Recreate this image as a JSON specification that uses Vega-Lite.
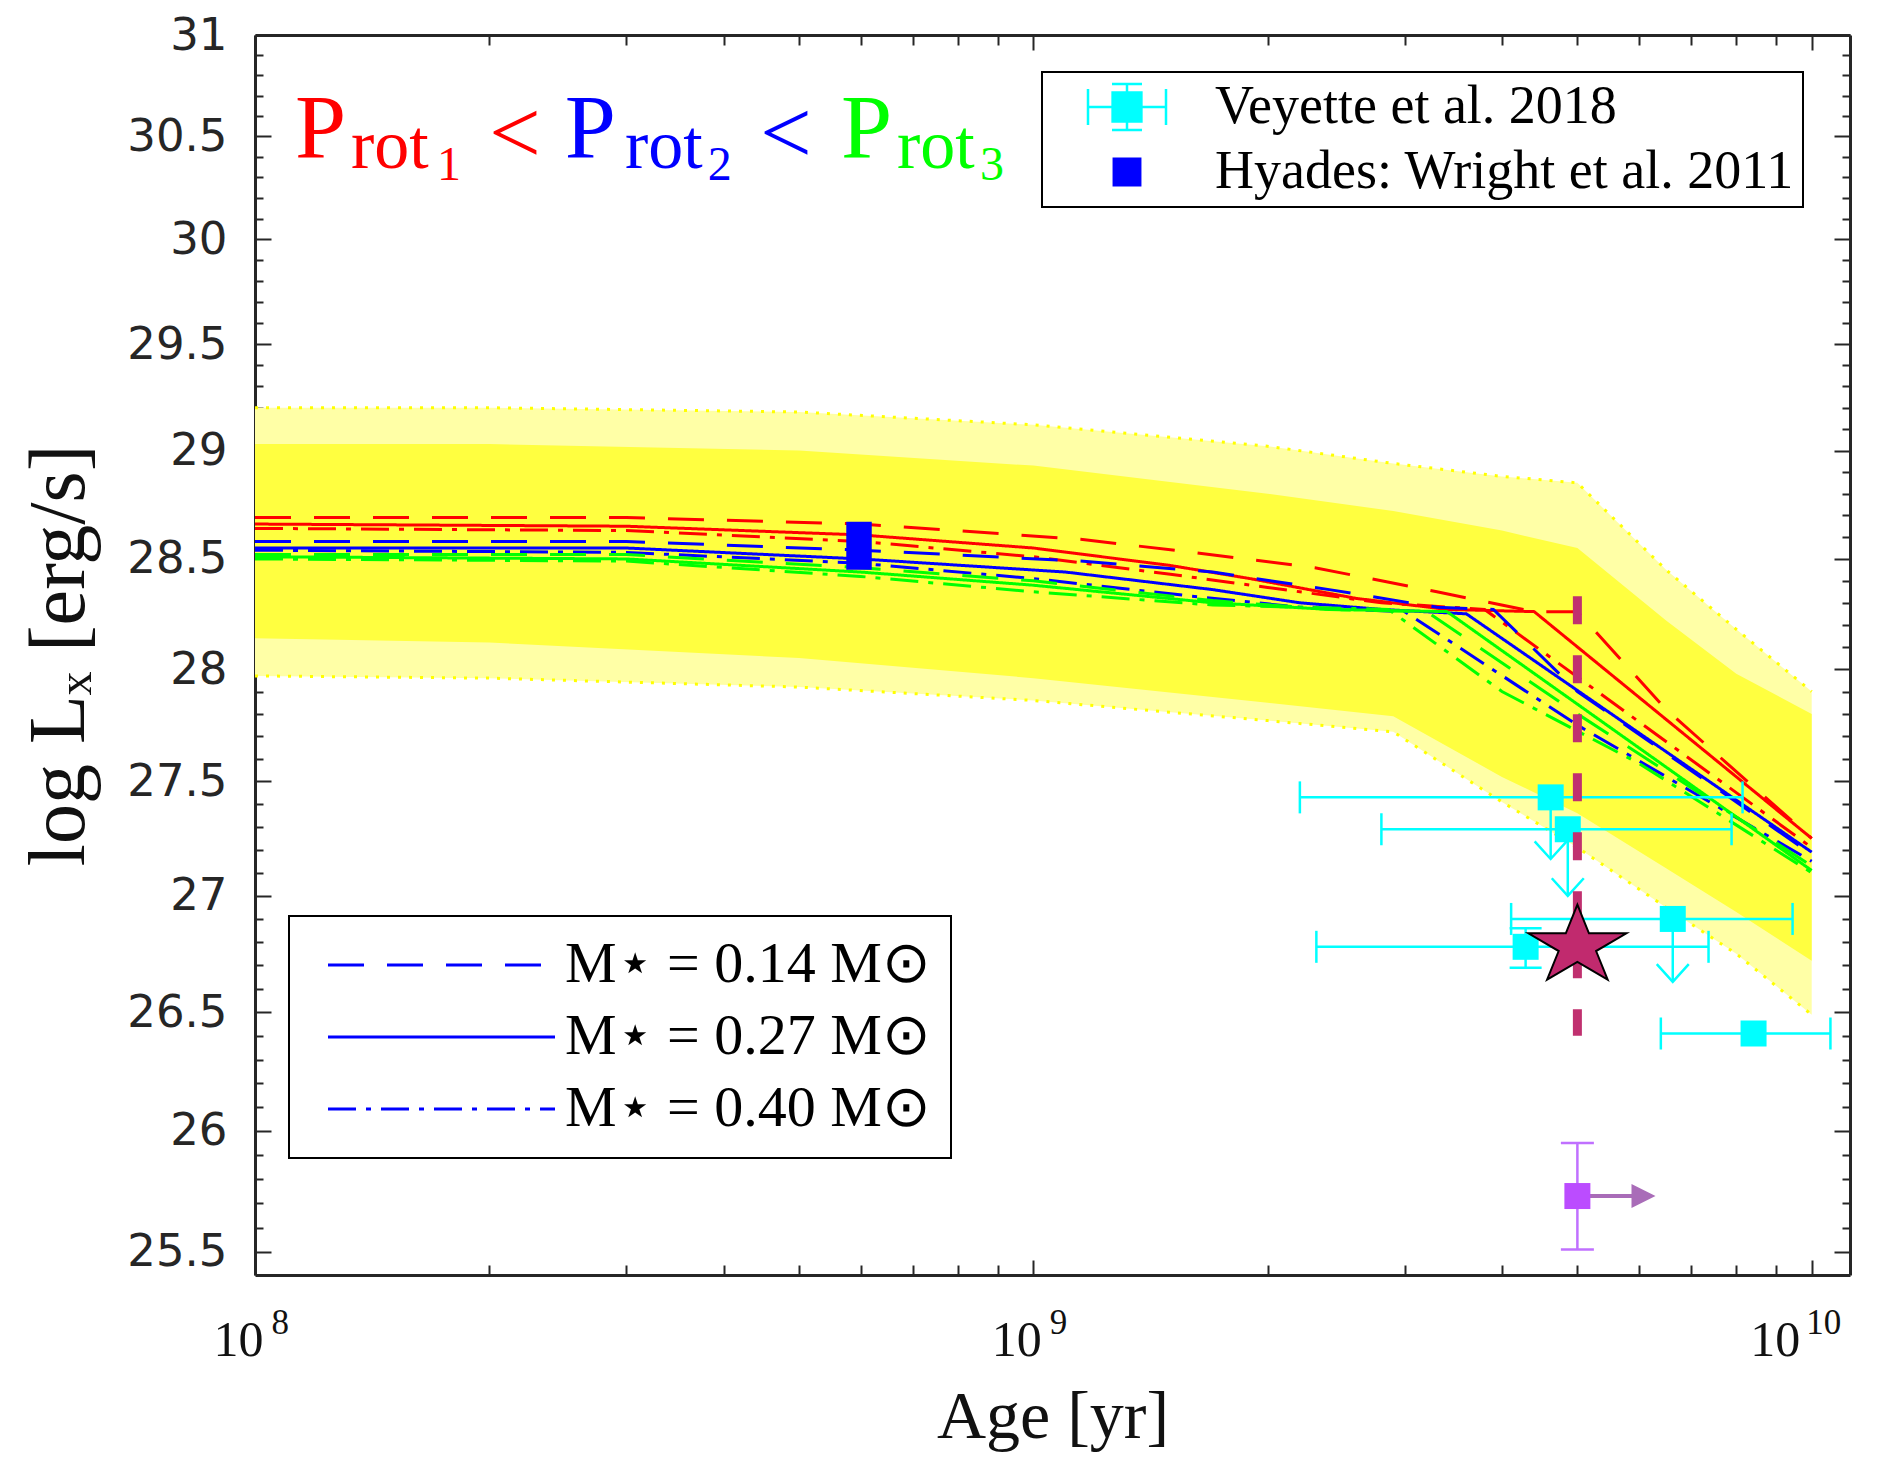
{
  "$schema": "https://vega.github.io/schema/vega-lite/v6.json",
  "width": 1595,
  "height": 1240,
  "autosize": {"type": "none"},
  "padding": {"left": 255, "top": 35, "right": 27, "bottom": 184},
  "background": "#FFFFFF",
  "config": {
    "view": {"stroke": null},
    "axis": {"grid": false, "domain": false, "tickColor": "#262626", "tickWidth": 2, "labelColor": "#262626", "zindex": 1, "labelFlush": false, "labelOverlap": false},
    "legend": {"strokeWidth": 2},
    "text": {"font": "Liberation Serif"}
  },
  "resolve": {"axis": {"x": "independent", "y": "independent"}, "scale": {"color": "independent", "fill": "independent", "stroke": "independent", "shape": "independent"}},
  "datasets": {
    "bands": [
      {"age": 100000000, "olo": 27.97, "ohi": 29.2, "clo": 28.14, "chi": 29.03},
      {"age": 200000000, "olo": 27.96, "ohi": 29.2, "clo": 28.12, "chi": 29.03},
      {"age": 500000000, "olo": 27.92, "ohi": 29.18, "clo": 28.05, "chi": 29.0},
      {"age": 1000000000, "olo": 27.86, "ohi": 29.12, "clo": 27.96, "chi": 28.93},
      {"age": 2000000000, "olo": 27.77, "ohi": 29.02, "clo": 27.85, "chi": 28.8},
      {"age": 2900000000, "olo": 27.72, "ohi": 28.94, "clo": 27.79, "chi": 28.72},
      {"age": 4000000000, "olo": 27.41, "ohi": 28.88, "clo": 27.52, "chi": 28.63},
      {"age": 5000000000, "olo": 27.21, "ohi": 28.85, "clo": 27.36, "chi": 28.55},
      {"age": 6500000000, "olo": 26.95, "ohi": 28.45, "clo": 27.12, "chi": 28.22},
      {"age": 8000000000, "olo": 26.75, "ohi": 28.18, "clo": 26.93, "chi": 27.98},
      {"age": 10000000000, "olo": 26.49, "ohi": 27.9, "clo": 26.72, "chi": 27.8}
    ],
    "models": [
      {"prot": "P1", "mass": "0.14", "age": 100000000, "lx": 28.69},
      {"prot": "P1", "mass": "0.14", "age": 300000000, "lx": 28.69},
      {"prot": "P1", "mass": "0.14", "age": 600000000, "lx": 28.66},
      {"prot": "P1", "mass": "0.14", "age": 1150000000, "lx": 28.59},
      {"prot": "P1", "mass": "0.14", "age": 1600000000, "lx": 28.53},
      {"prot": "P1", "mass": "0.14", "age": 2300000000, "lx": 28.46},
      {"prot": "P1", "mass": "0.14", "age": 3300000000, "lx": 28.35},
      {"prot": "P1", "mass": "0.14", "age": 4400000000, "lx": 28.26},
      {"prot": "P1", "mass": "0.14", "age": 5000000000, "lx": 28.26},
      {"prot": "P1", "mass": "0.14", "age": 6500000000, "lx": 27.82},
      {"prot": "P1", "mass": "0.14", "age": 10000000000, "lx": 27.25},
      {"prot": "P1", "mass": "0.27", "age": 100000000, "lx": 28.66},
      {"prot": "P1", "mass": "0.27", "age": 300000000, "lx": 28.65},
      {"prot": "P1", "mass": "0.27", "age": 600000000, "lx": 28.61},
      {"prot": "P1", "mass": "0.27", "age": 1000000000, "lx": 28.55},
      {"prot": "P1", "mass": "0.27", "age": 1500000000, "lx": 28.47},
      {"prot": "P1", "mass": "0.27", "age": 1900000000, "lx": 28.41},
      {"prot": "P1", "mass": "0.27", "age": 2600000000, "lx": 28.32},
      {"prot": "P1", "mass": "0.27", "age": 3400000000, "lx": 28.27},
      {"prot": "P1", "mass": "0.27", "age": 4400000000, "lx": 28.26},
      {"prot": "P1", "mass": "0.27", "age": 10000000000, "lx": 27.25},
      {"prot": "P1", "mass": "0.40", "age": 100000000, "lx": 28.64},
      {"prot": "P1", "mass": "0.40", "age": 300000000, "lx": 28.63},
      {"prot": "P1", "mass": "0.40", "age": 600000000, "lx": 28.58},
      {"prot": "P1", "mass": "0.40", "age": 1000000000, "lx": 28.51},
      {"prot": "P1", "mass": "0.40", "age": 1500000000, "lx": 28.43},
      {"prot": "P1", "mass": "0.40", "age": 2000000000, "lx": 28.37},
      {"prot": "P1", "mass": "0.40", "age": 2800000000, "lx": 28.3},
      {"prot": "P1", "mass": "0.40", "age": 3800000000, "lx": 28.27},
      {"prot": "P1", "mass": "0.40", "age": 10000000000, "lx": 27.21},
      {"prot": "P2", "mass": "0.14", "age": 100000000, "lx": 28.58},
      {"prot": "P2", "mass": "0.14", "age": 300000000, "lx": 28.58},
      {"prot": "P2", "mass": "0.14", "age": 600000000, "lx": 28.54},
      {"prot": "P2", "mass": "0.14", "age": 1150000000, "lx": 28.49},
      {"prot": "P2", "mass": "0.14", "age": 1700000000, "lx": 28.44},
      {"prot": "P2", "mass": "0.14", "age": 2400000000, "lx": 28.36},
      {"prot": "P2", "mass": "0.14", "age": 3300000000, "lx": 28.28},
      {"prot": "P2", "mass": "0.14", "age": 3900000000, "lx": 28.27},
      {"prot": "P2", "mass": "0.14", "age": 5000000000, "lx": 27.9},
      {"prot": "P2", "mass": "0.14", "age": 10000000000, "lx": 27.18},
      {"prot": "P2", "mass": "0.27", "age": 100000000, "lx": 28.55},
      {"prot": "P2", "mass": "0.27", "age": 300000000, "lx": 28.55},
      {"prot": "P2", "mass": "0.27", "age": 600000000, "lx": 28.5},
      {"prot": "P2", "mass": "0.27", "age": 1100000000, "lx": 28.44},
      {"prot": "P2", "mass": "0.27", "age": 1700000000, "lx": 28.36},
      {"prot": "P2", "mass": "0.27", "age": 2200000000, "lx": 28.3},
      {"prot": "P2", "mass": "0.27", "age": 2800000000, "lx": 28.27},
      {"prot": "P2", "mass": "0.27", "age": 3600000000, "lx": 28.25},
      {"prot": "P2", "mass": "0.27", "age": 10000000000, "lx": 27.19},
      {"prot": "P2", "mass": "0.40", "age": 100000000, "lx": 28.54},
      {"prot": "P2", "mass": "0.40", "age": 300000000, "lx": 28.53},
      {"prot": "P2", "mass": "0.40", "age": 600000000, "lx": 28.48},
      {"prot": "P2", "mass": "0.40", "age": 1000000000, "lx": 28.41},
      {"prot": "P2", "mass": "0.40", "age": 1600000000, "lx": 28.33},
      {"prot": "P2", "mass": "0.40", "age": 2200000000, "lx": 28.28},
      {"prot": "P2", "mass": "0.40", "age": 3000000000, "lx": 28.26},
      {"prot": "P2", "mass": "0.40", "age": 5000000000, "lx": 27.75},
      {"prot": "P2", "mass": "0.40", "age": 10000000000, "lx": 27.15},
      {"prot": "P3", "mass": "0.14", "age": 100000000, "lx": 28.52},
      {"prot": "P3", "mass": "0.14", "age": 300000000, "lx": 28.52},
      {"prot": "P3", "mass": "0.14", "age": 600000000, "lx": 28.46},
      {"prot": "P3", "mass": "0.14", "age": 1000000000, "lx": 28.4},
      {"prot": "P3", "mass": "0.14", "age": 1700000000, "lx": 28.31},
      {"prot": "P3", "mass": "0.14", "age": 2400000000, "lx": 28.27},
      {"prot": "P3", "mass": "0.14", "age": 3200000000, "lx": 28.26},
      {"prot": "P3", "mass": "0.14", "age": 5000000000, "lx": 27.8},
      {"prot": "P3", "mass": "0.14", "age": 10000000000, "lx": 27.13},
      {"prot": "P3", "mass": "0.27", "age": 100000000, "lx": 28.51},
      {"prot": "P3", "mass": "0.27", "age": 300000000, "lx": 28.5},
      {"prot": "P3", "mass": "0.27", "age": 600000000, "lx": 28.44},
      {"prot": "P3", "mass": "0.27", "age": 1000000000, "lx": 28.38},
      {"prot": "P3", "mass": "0.27", "age": 1700000000, "lx": 28.3},
      {"prot": "P3", "mass": "0.27", "age": 2400000000, "lx": 28.27},
      {"prot": "P3", "mass": "0.27", "age": 3400000000, "lx": 28.26},
      {"prot": "P3", "mass": "0.27", "age": 10000000000, "lx": 27.11},
      {"prot": "P3", "mass": "0.40", "age": 100000000, "lx": 28.5},
      {"prot": "P3", "mass": "0.40", "age": 300000000, "lx": 28.49},
      {"prot": "P3", "mass": "0.40", "age": 600000000, "lx": 28.42},
      {"prot": "P3", "mass": "0.40", "age": 1000000000, "lx": 28.35},
      {"prot": "P3", "mass": "0.40", "age": 1700000000, "lx": 28.29},
      {"prot": "P3", "mass": "0.40", "age": 2860000000, "lx": 28.27},
      {"prot": "P3", "mass": "0.40", "age": 4000000000, "lx": 27.9},
      {"prot": "P3", "mass": "0.40", "age": 6000000000, "lx": 27.58},
      {"prot": "P3", "mass": "0.40", "age": 10000000000, "lx": 27.1}
    ],
    "veyette": [
      {"source": "Veyette et al. 2018", "age": 4620000000, "lx": 27.43, "xlo": 2200000000, "xhi": 8150000000, "ylo": null, "yhi": null, "lim": 27.16},
      {"source": "Veyette et al. 2018", "age": 4860000000, "lx": 27.29, "xlo": 2800000000, "xhi": 7890000000, "ylo": null, "yhi": null, "lim": 27.0},
      {"source": "Veyette et al. 2018", "age": 4290000000, "lx": 26.78, "xlo": 2310000000, "xhi": 7370000000, "ylo": 26.69, "yhi": 26.86, "lim": null},
      {"source": "Veyette et al. 2018", "age": 6630000000, "lx": 26.9, "xlo": 4110000000, "xhi": 9450000000, "ylo": null, "yhi": null, "lim": 26.63},
      {"source": "Veyette et al. 2018", "age": 8420000000, "lx": 26.41, "xlo": 6400000000, "xhi": 10570000000, "ylo": null, "yhi": null, "lim": null}
    ],
    "hyades": [
      {"source": "Hyades: Wright et al. 2011", "alo": 575000000, "ahi": 620000000, "lo": 28.45, "hi": 28.67}
    ],
    "sources": [
      {"source": "Veyette et al. 2018", "age": 4620000000, "lx": 27.43},
      {"source": "Hyades: Wright et al. 2011", "age": 597000000, "lx": 28.56}
    ],
    "target": [
      {"age": 5000000000, "lx": 26.8, "lo": 26.4, "hi": 28.33}
    ],
    "agelimit": [
      {"age": 5000000000, "lx": 25.73, "lo": 25.51, "hi": 25.95, "amax": 6080000000}
    ],
    "ann_main": [
      {"t": "P", "prot": "P1", "age": 112600000, "lx": 30.394},
      {"t": "<", "prot": "P1", "age": 199800000, "lx": 30.37},
      {"t": "P", "prot": "P2", "age": 250000000, "lx": 30.394},
      {"t": "<", "prot": "P2", "age": 445400000, "lx": 30.37},
      {"t": "P", "prot": "P3", "age": 566000000, "lx": 30.394}
    ],
    "ann_sub": [
      {"t": "rot", "prot": "P1", "age": 132800000, "lx": 30.345},
      {"t": "rot", "prot": "P2", "age": 298700000, "lx": 30.345},
      {"t": "rot", "prot": "P3", "age": 668000000, "lx": 30.345}
    ],
    "ann_subsub": [
      {"t": "1", "prot": "P1", "age": 171300000, "lx": 30.287},
      {"t": "2", "prot": "P2", "age": 381700000, "lx": 30.287},
      {"t": "3", "prot": "P3", "age": 854000000, "lx": 30.287}
    ]
  },
  "layer": [
    {
      "data": {"name": "bands"},
      "mark": {"type": "area", "color": "#FFFFA6"},
      "encoding": {
        "x": {"field": "age", "type": "quantitative", "scale": {"type": "log", "domain": [100000000, 11200000000], "nice": false},
          "axis": {"orient": "bottom", "values": [100000000, 1000000000, 10000000000], "tickSize": -15, "domain": true, "domainColor": "#262626", "domainWidth": 3,
            "labelExpr": "'10'", "labelAlign": "right", "labelBaseline": "alphabetic",
            "labelOffset": {"condition": {"test": "datum.value > 5000000000", "value": -12}, "value": 8},
            "labelFont": "Liberation Serif", "labelFontSize": 50, "labelColor": "#111111", "labelPadding": 95, "labelAngle": 0,
            "title": "Age [yr]", "titleFont": "Liberation Serif", "titleFontSize": 68, "titleFontWeight": "normal", "titleColor": "#111111", "titlePadding": 18}},
        "y": {"field": "olo", "type": "quantitative", "scale": {"type": "log", "domain": [25.406, 31], "nice": false},
          "axis": {"orient": "left", "values": [25.5, 26, 26.5, 27, 27.5, 28, 28.5, 29, 29.5, 30, 30.5, 31], "tickSize": -16, "domain": true, "domainColor": "#262626", "domainWidth": 3,
            "format": "~g", "labelFont": "DejaVu Sans", "labelFontSize": 45, "labelColor": "#262626", "labelPadding": 44,
            "title": "log Lₓ [erg/s]", "titleFont": "Liberation Serif", "titleFontSize": 80, "titleFontWeight": "normal", "titleColor": "#111111", "titlePadding": 26}},
        "y2": {"field": "ohi"}
      }
    },
    {
      "data": {"name": "bands"},
      "mark": {"type": "area", "color": "#FFFF40"},
      "encoding": {
        "x": {"field": "age", "type": "quantitative", "scale": {"type": "log", "domain": [100000000, 11200000000], "nice": false},
          "axis": {"orient": "bottom", "values": [200000000, 300000000, 400000000, 500000000, 600000000, 700000000, 800000000, 900000000, 2000000000, 3000000000, 4000000000, 5000000000, 6000000000, 7000000000, 8000000000, 9000000000], "tickSize": -10, "labels": false, "title": null}},
        "y": {"field": "clo", "type": "quantitative", "scale": {"type": "log", "domain": [25.406, 31], "nice": false},
          "axis": {"orient": "left", "values": [25.6, 25.7, 25.8, 25.9, 26.1, 26.2, 26.3, 26.4, 26.6, 26.7, 26.8, 26.9, 27.1, 27.2, 27.3, 27.4, 27.6, 27.7, 27.8, 27.9, 28.1, 28.2, 28.3, 28.4, 28.6, 28.7, 28.8, 28.9, 29.1, 29.2, 29.3, 29.4, 29.6, 29.7, 29.8, 29.9, 30.1, 30.2, 30.3, 30.4, 30.6, 30.7, 30.8, 30.9], "tickSize": -8, "labels": false, "title": null}},
        "y2": {"field": "chi"}
      }
    },
    {
      "data": {"name": "bands"},
      "transform": [{"fold": ["ohi", "olo"], "as": ["edge", "lx"]}],
      "mark": {"type": "line", "color": "#FFFF00", "strokeWidth": 3, "strokeDash": [3, 8]},
      "encoding": {
        "x": {"field": "age", "type": "quantitative", "scale": {"type": "log", "domain": [100000000, 11200000000], "nice": false},
          "axis": {"orient": "top", "values": [100000000, 1000000000, 10000000000], "tickSize": -15, "labels": false, "title": null, "domain": true, "domainColor": "#262626", "domainWidth": 3}},
        "y": {"field": "lx", "type": "quantitative", "scale": {"type": "log", "domain": [25.406, 31], "nice": false},
          "axis": {"orient": "right", "values": [25.5, 26, 26.5, 27, 27.5, 28, 28.5, 29, 29.5, 30, 30.5, 31], "tickSize": -16, "labels": false, "title": null, "domain": true, "domainColor": "#262626", "domainWidth": 3}},
        "detail": {"field": "edge"}
      }
    },
    {
      "data": {"name": "models"},
      "mark": {"type": "line", "strokeWidth": 3},
      "encoding": {
        "x": {"field": "age", "type": "quantitative", "scale": {"type": "log", "domain": [100000000, 11200000000], "nice": false},
          "axis": {"orient": "top", "values": [200000000, 300000000, 400000000, 500000000, 600000000, 700000000, 800000000, 900000000, 2000000000, 3000000000, 4000000000, 5000000000, 6000000000, 7000000000, 8000000000, 9000000000], "tickSize": -10, "labels": false, "title": null}},
        "y": {"field": "lx", "type": "quantitative", "scale": {"type": "log", "domain": [25.406, 31], "nice": false},
          "axis": {"orient": "right", "values": [25.6, 25.7, 25.8, 25.9, 26.1, 26.2, 26.3, 26.4, 26.6, 26.7, 26.8, 26.9, 27.1, 27.2, 27.3, 27.4, 27.6, 27.7, 27.8, 27.9, 28.1, 28.2, 28.3, 28.4, 28.6, 28.7, 28.8, 28.9, 29.1, 29.2, 29.3, 29.4, 29.6, 29.7, 29.8, 29.9, 30.1, 30.2, 30.3, 30.4, 30.6, 30.7, 30.8, 30.9], "tickSize": -8, "labels": false, "title": null}},
        "color": {"field": "prot", "type": "nominal", "scale": {"domain": ["P1", "P2", "P3"], "range": ["#FF0000", "#0000FF", "#00FF00"]}, "legend": null},
        "strokeDash": {"field": "mass", "type": "nominal",
          "scale": {"domain": ["0.14", "0.27", "0.40"], "range": [[36, 23], [1, 0], [28, 10, 5, 10]]},
          "legend": {"orient": "none", "legendX": 34, "legendY": 881, "title": null,
            "fillColor": "#FFFFFF", "strokeColor": "#000000", "padding": 20,
            "symbolType": "M-11.35,0H11.35", "symbolSize": 400, "symbolStrokeWidth": 3, "symbolStrokeColor": "#0000FF",
            "symbolOffset": 103.5, "labelOffset": 94.5, "rowPadding": 14,
            "labelFont": "Liberation Serif", "labelFontSize": 58, "labelColor": "#000000", "labelLimit": 0,
            "labelExpr": "'M⋆ = ' + datum.label + ' M⊙'"}}
      }
    },
    {
      "data": {"name": "veyette"},
      "mark": {"type": "rule", "color": "#00FFFF", "strokeWidth": 2.5},
      "encoding": {
        "x": {"field": "xlo", "type": "quantitative", "scale": {"type": "log", "domain": [100000000, 11200000000], "nice": false}, "axis": null},
        "x2": {"field": "xhi"},
        "y": {"field": "lx", "type": "quantitative", "scale": {"type": "log", "domain": [25.406, 31], "nice": false}, "axis": null}
      }
    },
    {
      "data": {"name": "veyette"},
      "transform": [{"fold": ["xlo", "xhi"], "as": ["end", "xend"]}],
      "mark": {"type": "tick", "orient": "vertical", "color": "#00FFFF", "size": 32, "thickness": 2.5, "opacity": 1},
      "encoding": {
        "x": {"field": "xend", "type": "quantitative", "scale": {"type": "log", "domain": [100000000, 11200000000], "nice": false}, "axis": null},
        "y": {"field": "lx", "type": "quantitative", "scale": {"type": "log", "domain": [25.406, 31], "nice": false}, "axis": null}
      }
    },
    {
      "data": {"name": "veyette"},
      "transform": [{"filter": "isValid(datum.ylo)"}],
      "mark": {"type": "rule", "color": "#00FFFF", "strokeWidth": 2.5},
      "encoding": {
        "x": {"field": "age", "type": "quantitative", "scale": {"type": "log", "domain": [100000000, 11200000000], "nice": false}, "axis": null},
        "y": {"field": "ylo", "type": "quantitative", "scale": {"type": "log", "domain": [25.406, 31], "nice": false}, "axis": null},
        "y2": {"field": "yhi"}
      }
    },
    {
      "data": {"name": "veyette"},
      "transform": [{"filter": "isValid(datum.ylo)"}, {"fold": ["ylo", "yhi"], "as": ["end", "yend"]}],
      "mark": {"type": "tick", "orient": "horizontal", "color": "#00FFFF", "size": 32, "thickness": 2.5, "opacity": 1},
      "encoding": {
        "x": {"field": "age", "type": "quantitative", "scale": {"type": "log", "domain": [100000000, 11200000000], "nice": false}, "axis": null},
        "y": {"field": "yend", "type": "quantitative", "scale": {"type": "log", "domain": [25.406, 31], "nice": false}, "axis": null}
      }
    },
    {
      "data": {"name": "veyette"},
      "transform": [{"filter": "isValid(datum.lim)"}],
      "mark": {"type": "rule", "color": "#00FFFF", "strokeWidth": 2.5},
      "encoding": {
        "x": {"field": "age", "type": "quantitative", "scale": {"type": "log", "domain": [100000000, 11200000000], "nice": false}, "axis": null},
        "y": {"field": "lx", "type": "quantitative", "scale": {"type": "log", "domain": [25.406, 31], "nice": false}, "axis": null},
        "y2": {"field": "lim"}
      }
    },
    {
      "data": {"name": "veyette"},
      "transform": [{"filter": "isValid(datum.lim)"}],
      "mark": {"type": "point", "shape": "M-1,-1.1L0,0L1,-1.1", "filled": false, "stroke": "#00FFFF", "strokeWidth": 2.5, "size": 1024, "opacity": 1},
      "encoding": {
        "x": {"field": "age", "type": "quantitative", "scale": {"type": "log", "domain": [100000000, 11200000000], "nice": false}, "axis": null},
        "y": {"field": "lim", "type": "quantitative", "scale": {"type": "log", "domain": [25.406, 31], "nice": false}, "axis": null}
      }
    },
    {
      "data": {"name": "veyette"},
      "mark": {"type": "point", "shape": "square", "filled": true, "color": "#00FFFF", "size": 676, "opacity": 1},
      "encoding": {
        "x": {"field": "age", "type": "quantitative", "scale": {"type": "log", "domain": [100000000, 11200000000], "nice": false}, "axis": null},
        "y": {"field": "lx", "type": "quantitative", "scale": {"type": "log", "domain": [25.406, 31], "nice": false}, "axis": null}
      }
    },
    {
      "data": {"name": "hyades"},
      "mark": {"type": "rect", "color": "#0000FF"},
      "encoding": {
        "x": {"field": "alo", "type": "quantitative", "scale": {"type": "log", "domain": [100000000, 11200000000], "nice": false}, "axis": null},
        "x2": {"field": "ahi"},
        "y": {"field": "lo", "type": "quantitative", "scale": {"type": "log", "domain": [25.406, 31], "nice": false}, "axis": null},
        "y2": {"field": "hi"}
      }
    },
    {
      "data": {"name": "sources"},
      "transform": [{"filter": "false"}],
      "mark": {"type": "point", "filled": true, "strokeWidth": 2.5, "opacity": 1},
      "encoding": {
        "x": {"field": "age", "type": "quantitative", "scale": {"type": "log", "domain": [100000000, 11200000000], "nice": false}, "axis": null},
        "y": {"field": "lx", "type": "quantitative", "scale": {"type": "log", "domain": [25.406, 31], "nice": false}, "axis": null},
        "fill": {"field": "source", "type": "nominal",
          "scale": {"domain": ["Veyette et al. 2018", "Hyades: Wright et al. 2011"], "range": ["#00FFFF", "#0000FF"]},
          "legend": {"orient": "none", "legendX": 787, "legendY": 37, "title": null,
            "fillColor": "#FFFFFF", "strokeColor": "#000000", "padding": 8,
            "symbolSize": 1600, "symbolStrokeWidth": 2.5, "symbolOffset": 50, "labelOffset": 61, "rowPadding": 10,
            "labelFont": "Liberation Serif", "labelFontSize": 54, "labelColor": "#000000", "labelLimit": 0}},
        "stroke": {"field": "source", "type": "nominal",
          "scale": {"domain": ["Veyette et al. 2018", "Hyades: Wright et al. 2011"], "range": ["#00FFFF", "#0000FF"]},
          "legend": {"orient": "none", "legendX": 787, "legendY": 37, "title": null,
            "fillColor": "#FFFFFF", "strokeColor": "#000000", "padding": 8,
            "symbolSize": 1600, "symbolStrokeWidth": 2.5, "symbolOffset": 50, "labelOffset": 61, "rowPadding": 10,
            "labelFont": "Liberation Serif", "labelFontSize": 54, "labelColor": "#000000", "labelLimit": 0}},
        "shape": {"field": "source", "type": "nominal",
          "scale": {"domain": ["Veyette et al. 2018", "Hyades: Wright et al. 2011"],
            "range": ["M-1.95,0H1.95M0,-1.15V1.15M-1.95,-0.9V0.9M1.95,-0.9V0.9M-0.75,-1.15H0.75M-0.75,1.15H0.75M-0.72,-0.72H0.72V0.72H-0.72Z", "M-0.66,-0.66H0.66V0.66H-0.66Z"]},
          "legend": {"orient": "none", "legendX": 787, "legendY": 37, "title": null,
            "fillColor": "#FFFFFF", "strokeColor": "#000000", "padding": 8,
            "symbolSize": 1600, "symbolStrokeWidth": 2.5, "symbolOffset": 50, "labelOffset": 61, "rowPadding": 10,
            "labelFont": "Liberation Serif", "labelFontSize": 54, "labelColor": "#000000", "labelLimit": 0}}
      }
    },
    {
      "data": {"name": "target"},
      "mark": {"type": "rule", "color": "#C0306F", "strokeWidth": 9, "strokeDash": [28, 31]},
      "encoding": {
        "x": {"field": "age", "type": "quantitative", "scale": {"type": "log", "domain": [100000000, 11200000000], "nice": false}, "axis": null},
        "y": {"field": "hi", "type": "quantitative", "scale": {"type": "log", "domain": [25.406, 31], "nice": false}, "axis": null},
        "y2": {"field": "lo"}
      }
    },
    {
      "data": {"name": "target"},
      "mark": {"type": "point", "shape": "M0,-0.765L0.236,-0.18L1,-0.18L0.382,0.181L0.618,0.765L0,0.404L-0.618,0.765L-0.382,0.181L-1,-0.18L-0.236,-0.18Z",
        "filled": true, "fill": "#C12A6E", "stroke": "#000000", "strokeWidth": 2, "size": 9604, "opacity": 1},
      "encoding": {
        "x": {"field": "age", "type": "quantitative", "scale": {"type": "log", "domain": [100000000, 11200000000], "nice": false}, "axis": null},
        "y": {"field": "lx", "type": "quantitative", "scale": {"type": "log", "domain": [25.406, 31], "nice": false}, "axis": null}
      }
    },
    {
      "data": {"name": "agelimit"},
      "mark": {"type": "rule", "color": "#C070FF", "strokeWidth": 2.5},
      "encoding": {
        "x": {"field": "age", "type": "quantitative", "scale": {"type": "log", "domain": [100000000, 11200000000], "nice": false}, "axis": null},
        "y": {"field": "lo", "type": "quantitative", "scale": {"type": "log", "domain": [25.406, 31], "nice": false}, "axis": null},
        "y2": {"field": "hi"}
      }
    },
    {
      "data": {"name": "agelimit"},
      "transform": [{"fold": ["lo", "hi"], "as": ["end", "yend"]}],
      "mark": {"type": "tick", "orient": "horizontal", "color": "#C070FF", "size": 33, "thickness": 2.5, "opacity": 1},
      "encoding": {
        "x": {"field": "age", "type": "quantitative", "scale": {"type": "log", "domain": [100000000, 11200000000], "nice": false}, "axis": null},
        "y": {"field": "yend", "type": "quantitative", "scale": {"type": "log", "domain": [25.406, 31], "nice": false}, "axis": null}
      }
    },
    {
      "data": {"name": "agelimit"},
      "mark": {"type": "rule", "color": "#A96CB8", "strokeWidth": 4},
      "encoding": {
        "x": {"field": "age", "type": "quantitative", "scale": {"type": "log", "domain": [100000000, 11200000000], "nice": false}, "axis": null},
        "x2": {"field": "amax"},
        "y": {"field": "lx", "type": "quantitative", "scale": {"type": "log", "domain": [25.406, 31], "nice": false}, "axis": null}
      }
    },
    {
      "data": {"name": "agelimit"},
      "mark": {"type": "point", "shape": "M-1,-1L1,0L-1,1Z", "filled": true, "color": "#A96CB8", "size": 576, "opacity": 1},
      "encoding": {
        "x": {"field": "amax", "type": "quantitative", "scale": {"type": "log", "domain": [100000000, 11200000000], "nice": false}, "axis": null},
        "y": {"field": "lx", "type": "quantitative", "scale": {"type": "log", "domain": [25.406, 31], "nice": false}, "axis": null}
      }
    },
    {
      "data": {"name": "agelimit"},
      "mark": {"type": "point", "shape": "square", "filled": true, "color": "#BB4CFF", "size": 676, "opacity": 1},
      "encoding": {
        "x": {"field": "age", "type": "quantitative", "scale": {"type": "log", "domain": [100000000, 11200000000], "nice": false}, "axis": null},
        "y": {"field": "lx", "type": "quantitative", "scale": {"type": "log", "domain": [25.406, 31], "nice": false}, "axis": null}
      }
    },
    {
      "data": {"name": "ann_main"},
      "mark": {"type": "text", "align": "left", "baseline": "alphabetic", "font": "Liberation Serif", "fontSize": 92},
      "encoding": {
        "x": {"field": "age", "type": "quantitative", "scale": {"type": "log", "domain": [100000000, 11200000000], "nice": false},
          "axis": {"orient": "bottom", "values": [100000000, 1000000000, 10000000000], "ticks": false, "tickSize": 0, "domain": false,
            "labelExpr": "datum.value < 500000000 ? '8' : datum.value < 5000000000 ? '9' : '10'",
            "labelAlign": "left", "labelBaseline": "alphabetic",
            "labelOffset": {"condition": {"test": "datum.value > 5000000000", "value": -6}, "value": 16},
            "labelPadding": 58, "labelFont": "Liberation Serif", "labelFontSize": 35, "labelColor": "#111111", "labelAngle": 0, "title": null}},
        "y": {"field": "lx", "type": "quantitative", "scale": {"type": "log", "domain": [25.406, 31], "nice": false}, "axis": null},
        "text": {"field": "t"},
        "color": {"field": "prot", "type": "nominal", "scale": {"domain": ["P1", "P2", "P3"], "range": ["#FF0000", "#0000FF", "#00FF00"]}, "legend": null}
      }
    },
    {
      "data": {"name": "ann_sub"},
      "mark": {"type": "text", "align": "left", "baseline": "alphabetic", "font": "Liberation Serif", "fontSize": 70},
      "encoding": {
        "x": {"field": "age", "type": "quantitative", "scale": {"type": "log", "domain": [100000000, 11200000000], "nice": false}, "axis": null},
        "y": {"field": "lx", "type": "quantitative", "scale": {"type": "log", "domain": [25.406, 31], "nice": false}, "axis": null},
        "text": {"field": "t"},
        "color": {"field": "prot", "type": "nominal", "scale": {"domain": ["P1", "P2", "P3"], "range": ["#FF0000", "#0000FF", "#00FF00"]}, "legend": null}
      }
    },
    {
      "data": {"name": "ann_subsub"},
      "mark": {"type": "text", "align": "left", "baseline": "alphabetic", "font": "Liberation Serif", "fontSize": 48},
      "encoding": {
        "x": {"field": "age", "type": "quantitative", "scale": {"type": "log", "domain": [100000000, 11200000000], "nice": false}, "axis": null},
        "y": {"field": "lx", "type": "quantitative", "scale": {"type": "log", "domain": [25.406, 31], "nice": false}, "axis": null},
        "text": {"field": "t"},
        "color": {"field": "prot", "type": "nominal", "scale": {"domain": ["P1", "P2", "P3"], "range": ["#FF0000", "#0000FF", "#00FF00"]}, "legend": null}
      }
    }
  ]
}
